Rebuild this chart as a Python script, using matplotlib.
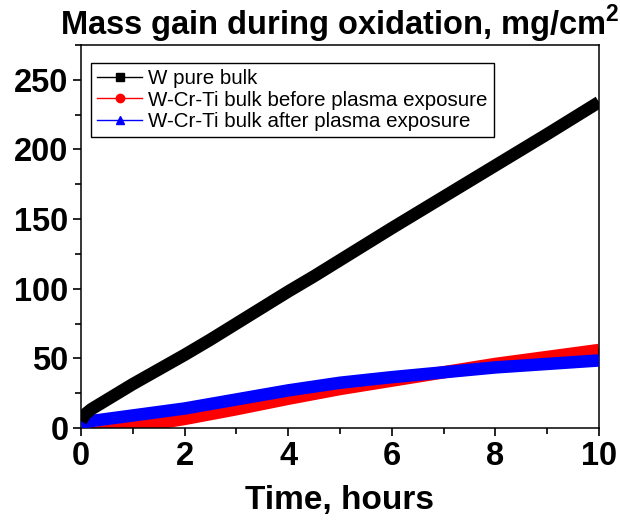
import numpy as np
import matplotlib
matplotlib.use("Agg")
import matplotlib.pyplot as plt
from matplotlib.lines import Line2D
from matplotlib.ticker import MultipleLocator

plt.rcParams["font.family"] = ["Liberation Sans", "DejaVu Sans"]
plt.rcParams["mathtext.fontset"] = "custom"
plt.rcParams["mathtext.rm"] = "Liberation Sans:bold"
plt.rcParams["mathtext.bf"] = "Liberation Sans:bold"

# 数据
t_w = [0.0, 0.05, 0.1, 0.2, 0.4, 0.6, 0.8, 1.0, 1.5, 2.0, 2.5, 3.0,
       3.5, 4.0, 4.5, 5.0, 6.0, 7.0, 8.0, 9.0, 10.0]
m_w = [5, 8, 10.5, 13.5, 18, 22.5, 27, 31.5, 42, 52.5, 63.5, 75,
       86.5, 98, 109, 120.5, 143.5, 166, 188.5, 211, 234]

t_cr = [0, 0.5, 1, 1.5, 2, 3, 4, 5, 6, 7, 8, 9, 10]
m_before = [-5, -2.2, 0.5, 3.5, 6.5, 13.5, 21, 28, 34, 40, 46, 51, 56]
m_after = [4, 6.5, 9, 11.5, 14, 20.5, 27, 32.5, 36.5, 40, 43.5, 46, 48.5]

labels = ["W pure bulk",
          "W-Cr-Ti bulk before plasma exposure",
          "W-Cr-Ti bulk after plasma exposure"]
colors = ["black", "red", "blue"]
markers = ["s", "o", "^"]

fig = plt.figure(figsize=(6.2, 5.21), dpi=100)
ax = fig.add_axes([0.1306, 0.1785, 0.8355, 0.7351])

lw = 9
ax.plot(t_cr, m_before, color="red", lw=lw, solid_capstyle="butt",
        solid_joinstyle="round", zorder=2)
ax.plot(t_cr, m_after, color="blue", lw=lw, solid_capstyle="butt",
        solid_joinstyle="round", zorder=3)
ax.plot(t_w, m_w, color="black", lw=lw, solid_capstyle="butt",
        solid_joinstyle="round", zorder=4)

ax.set_xlim(0, 10)
ax.set_ylim(0, 275)
ax.xaxis.set_major_locator(MultipleLocator(2))
ax.xaxis.set_minor_locator(MultipleLocator(1))
ax.yaxis.set_major_locator(MultipleLocator(50))
ax.yaxis.set_minor_locator(MultipleLocator(25))
ax.tick_params(which="major", direction="out", length=6, width=1.2,
               labelsize=23.5, pad=3)
ax.tick_params(which="minor", direction="out", length=4, width=1.2)
for lab in ax.get_xticklabels() + ax.get_yticklabels():
    lab.set_fontweight("bold")
for sp in ax.spines.values():
    sp.set_linewidth(1.1)

ax.set_xlabel("Time, hours", fontsize=24, fontweight="bold", labelpad=10)
ax.set_title("Mass gain during oxidation, mg/cm$^{2}$", fontsize=23.5,
             fontweight="bold", pad=5)

handles = [Line2D([], [], color=c, lw=1, marker=m, markersize=6)
           for c, m in zip(colors, markers)]
leg = ax.legend(handles, labels, loc="upper left",
                bbox_to_anchor=(0.019, 0.953), borderaxespad=0,
                fontsize=14.8, fancybox=False, framealpha=1,
                edgecolor="black", handlelength=2.2, handletextpad=0.3,
                labelspacing=0.12, borderpad=0.3)
leg.get_frame().set_linewidth(1.0)

fig.savefig("out.png", dpi=100)
